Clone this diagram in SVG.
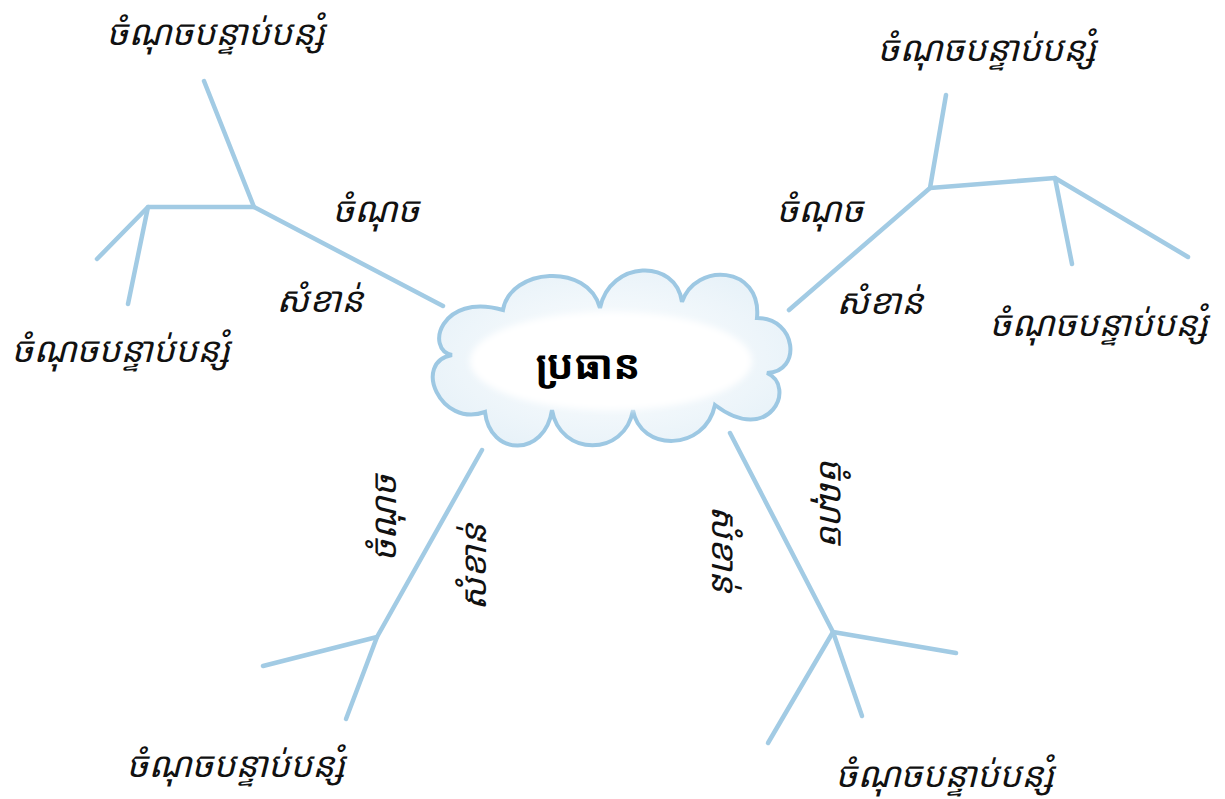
<svg xmlns="http://www.w3.org/2000/svg" width="1225" height="799" viewBox="0 0 1225 799">
<style>
.ln{fill:none;stroke:#a2cbe4;stroke-width:4.5;stroke-linecap:round;stroke-linejoin:round}
.t{font-family:"Noto Sans Khmer","Khmer OS","Khmer OS System","DejaVu Sans","Noto Sans",sans-serif;font-size:35px;font-style:italic;fill:#111;text-anchor:middle}
.c{font-family:"Noto Sans Khmer","Khmer OS","DejaVu Sans","Noto Sans",sans-serif;font-size:40px;font-weight:bold;fill:#000;text-anchor:middle}
</style>
<defs>
<radialGradient id="cg" cx="0.5" cy="0.5" r="0.6">
<stop offset="0" stop-color="#ffffff"/>
<stop offset="1" stop-color="#e6f1f8"/>
</radialGradient>
<filter id="bl" x="-0.1" y="-0.3" width="1.2" height="1.6"><feGaussianBlur stdDeviation="3"/></filter>
</defs>
<rect width="1225" height="799" fill="#ffffff"/>
<g id="connectors">
<polyline class="ln" points="443,306 254,207 204,81"/>
<polyline class="ln" points="254,207 148,207 97,259"/>
<line class="ln" x1="148" y1="207" x2="128" y2="304"/>
<polyline class="ln" points="789,310 930,188 946,95"/>
<polyline class="ln" points="930,188 1055,178 1188,257"/>
<line class="ln" x1="1055" y1="178" x2="1072" y2="264"/>
<polyline class="ln" points="482,450 377,637 263,666"/>
<line class="ln" x1="377" y1="637" x2="346" y2="719"/>
<polyline class="ln" points="730,433 833,632 956,653"/>
<line class="ln" x1="833" y1="632" x2="768" y2="743"/>
<line class="ln" x1="833" y1="632" x2="862" y2="716"/>
</g>
<g id="topic">
<path d="M452,355 C425,350 440,292 503,310 C510,268 588,262 600,308 C610,260 676,258 682,302 C695,262 762,265 757,318 C797,318 802,372 767,373 C797,386 770,447 715,405 C705,452 640,452 633,410 C625,457 560,457 552,410 C545,457 490,457 485,412 C440,428 412,362 452,355 Z" fill="url(#cg)" stroke="#9dc8e3" stroke-width="4"/>
<ellipse cx="611" cy="361" rx="141" ry="49" fill="#ffffff" filter="url(#bl)"/>
<text class="c" x="588" y="379">ប្រធាន</text>
</g>
<g id="sub-tl"><text class="t" x="216" y="45">ចំណុចបន្ទាប់បន្សំ</text></g>
<g id="sub-l"><text class="t" x="121" y="362">ចំណុចបន្ទាប់បន្សំ</text></g>
<g id="sub-tr"><text class="t" x="987" y="61">ចំណុចបន្ទាប់បន្សំ</text></g>
<g id="sub-r"><text class="t" x="1099" y="336">ចំណុចបន្ទាប់បន្សំ</text></g>
<g id="sub-bl"><text class="t" x="236" y="777">ចំណុចបន្ទាប់បន្សំ</text></g>
<g id="sub-br"><text class="t" x="945" y="787">ចំណុចបន្ទាប់បន្សំ</text></g>
<g id="main-tl">
<text class="t" x="376" y="222">ចំណុច</text>
<text class="t" x="320" y="312">សំខាន់</text>
</g>
<g id="main-tr">
<text class="t" x="820" y="222">ចំណុច</text>
<text class="t" x="880" y="314">សំខាន់</text>
</g>
<g id="main-bl">
<text class="t" transform="translate(396,518) rotate(-90)">ចំណុច</text>
<text class="t" transform="translate(486,567) rotate(-90)">សំខាន់</text>
</g>
<g id="main-br">
<text class="t" transform="translate(820,501) rotate(90)">ចំណុច</text>
<text class="t" transform="translate(712,549) rotate(90)">សំខាន់</text>
</g>
</svg>
